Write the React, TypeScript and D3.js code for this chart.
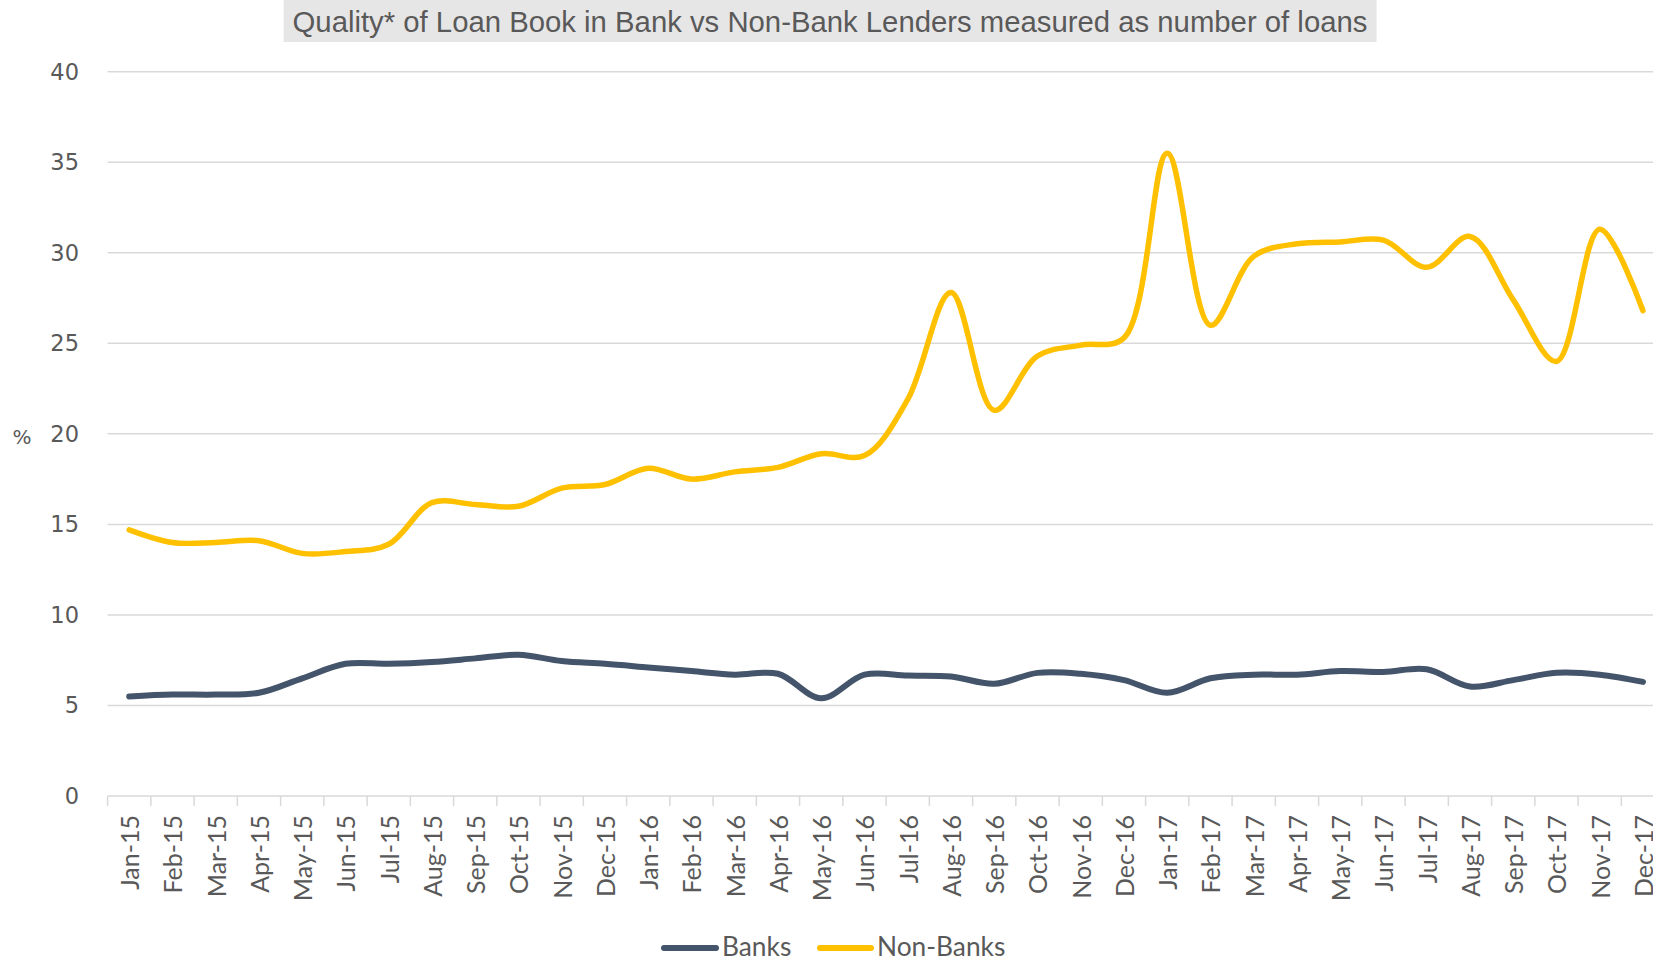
import React from "react";
import * as d3 from "d3";

const months = [
  "Jan-15","Feb-15","Mar-15","Apr-15","May-15","Jun-15","Jul-15","Aug-15","Sep-15","Oct-15","Nov-15","Dec-15",
  "Jan-16","Feb-16","Mar-16","Apr-16","May-16","Jun-16","Jul-16","Aug-16","Sep-16","Oct-16","Nov-16","Dec-16",
  "Jan-17","Feb-17","Mar-17","Apr-17","May-17","Jun-17","Jul-17","Aug-17","Sep-17","Oct-17","Nov-17","Dec-17",
];

const banks = [
  5.5, 5.6, 5.6, 5.7, 6.5, 7.3, 7.3, 7.4, 7.6, 7.8, 7.45, 7.3,
  7.1, 6.9, 6.7, 6.75, 5.4, 6.7, 6.65, 6.6, 6.2, 6.8, 6.75, 6.4,
  5.7, 6.5, 6.7, 6.7, 6.9, 6.85, 7.0, 6.05, 6.4, 6.8, 6.7, 6.3,
];

const nonBanks = [
  14.7, 14.0, 14.0, 14.1, 13.4, 13.5, 13.9, 16.2, 16.1, 16.0, 17.0, 17.2,
  18.1, 17.5, 17.9, 18.15, 18.9, 18.8, 21.9, 27.8, 21.3, 24.3, 24.9, 25.3,
  35.5, 26.0, 29.8, 30.5, 30.6, 30.7, 29.2, 30.9, 27.4, 24.0, 31.3, 26.8,
];

const yTicks = [0, 5, 10, 15, 20, 25, 30, 35, 40];

const W = 1653;
const H = 960;

export default function App() {
  const x = d3.scaleBand<string>().domain(months).range([107.6, 107.6 + 36 * 43.25]);
  const y = d3.scaleLinear().domain([0, 40]).range([796, 71.7]);
  const line = d3
    .line<number>()
    .x((_, i) => (x(months[i]) as number) + x.bandwidth() / 2)
    .y((d) => y(d))
    .curve(d3.curveCatmullRom.alpha(0.5));

  const textColor = "#595959";
  const gridColor = "#d9d9d9";

  return (
    <svg width={W} height={H} style={{ position: "absolute", left: 0, top: 0, background: "#fff" }}>
      {/* title */}
      <rect x={283.6} y={0} width={1093} height={42} fill="#e7e6e6" />
      <text
        x={830}
        y={21}
        textAnchor="middle"
        dominantBaseline="central"
        fontFamily="'Liberation Sans', Arial, sans-serif"
        fontSize={29.3}
        fill={textColor}
      >
        Quality* of Loan Book in Bank vs Non-Bank Lenders measured as number of loans
      </text>

      {/* gridlines */}
      {yTicks.map((t) => (
        <line key={t} x1={107.6} x2={W} y1={y(t)} y2={y(t)} stroke={gridColor} strokeWidth={1.5} />
      ))}
      {/* y labels */}
      {yTicks.map((t) => (
        <text
          key={"l" + t}
          x={79}
          y={y(t)}
          textAnchor="end"
          dominantBaseline="central"
          fontFamily="'DejaVu Sans', sans-serif"
          fontSize={22.5}
          fill={textColor}
        >
          {t}
        </text>
      ))}
      <text
        x={22}
        y={437}
        textAnchor="middle"
        dominantBaseline="central"
        fontFamily="'DejaVu Sans', sans-serif"
        fontSize={20}
        fill={textColor}
      >
        %
      </text>

      {/* x ticks */}
      {months.map((m) => (
        <line
          key={"t" + m}
          x1={x(m) as number}
          x2={x(m) as number}
          y1={y(0)}
          y2={y(0) + 10}
          stroke={gridColor}
          strokeWidth={1.5}
        />
      ))}
      {months.map((m) => {
        const cx = (x(m) as number) + x.bandwidth() / 2;
        return (
          <text
            key={"x" + m}
            transform={`translate(${cx},${815}) rotate(-90)`}
            textAnchor="end"
            dominantBaseline="central"
            fontFamily="Lato, sans-serif"
            fontSize={25}
            fill={textColor}
          >
            {m}
          </text>
        );
      })}

      {/* lines */}
      <path d={line(banks) as string} fill="none" stroke="#44546a" strokeWidth={6} strokeLinecap="round" strokeLinejoin="round" />
      <path d={line(nonBanks) as string} fill="none" stroke="#ffc000" strokeWidth={5.5} strokeLinecap="round" strokeLinejoin="round" />

      {/* legend */}
      <line x1={664} x2={716} y1={948} y2={948} stroke="#44546a" strokeWidth={6} strokeLinecap="round" />
      <text x={722} y={956} fontFamily="Lato, sans-serif" fontSize={26.3} fill={textColor}>
        Banks
      </text>
      <line x1={820} x2={871} y1={948} y2={948} stroke="#ffc000" strokeWidth={6} strokeLinecap="round" />
      <text x={877} y={956} fontFamily="Lato, sans-serif" fontSize={26.3} fill={textColor}>
        Non-Banks
      </text>
    </svg>
  );
}
